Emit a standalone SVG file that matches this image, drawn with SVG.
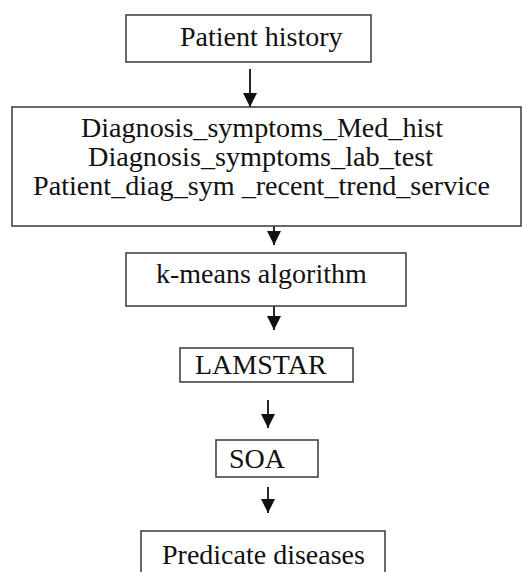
<svg xmlns="http://www.w3.org/2000/svg" width="524" height="572" viewBox="0 0 524 572">
<style>
.box{fill:#fff;stroke:#444;stroke-width:1.6}
.t{font-family:"Liberation Serif","Times New Roman",serif;font-size:28px;fill:#111}
.s{font-size:27px}
.c{stroke:#111;stroke-width:1.8;fill:none}
</style>
<defs>
<marker id="ah" markerUnits="userSpaceOnUse" markerWidth="15" markerHeight="14" refX="14" refY="7" orient="auto" viewBox="0 0 15 14">
<path d="M0,0 L14,7 L0,14 Z" fill="#111"/>
</marker>
</defs>
<rect width="524" height="572" fill="#fff"/>
<g id="connectors">
<line class="c" x1="250" y1="69" x2="250" y2="107" marker-end="url(#ah)"/>
<line class="c" x1="274" y1="226" x2="274" y2="245" marker-end="url(#ah)"/>
<line class="c" x1="274" y1="306" x2="274" y2="330" marker-end="url(#ah)"/>
<line class="c" x1="268" y1="400" x2="268" y2="428" marker-end="url(#ah)"/>
<line class="c" x1="268" y1="487" x2="268" y2="513" marker-end="url(#ah)"/>
</g>
<g id="patient-history">
<rect class="box" x="126" y="15" width="245" height="47"/>
<text class="t" x="180" y="46">Patient history</text>
</g>
<g id="diagnosis">
<rect class="box" x="12" y="107" width="509" height="119"/>
<text class="t s" x="81" y="137" textLength="362" lengthAdjust="spacingAndGlyphs">Diagnosis_symptoms_Med_hist</text>
<text class="t s" x="88" y="166" textLength="345" lengthAdjust="spacingAndGlyphs">Diagnosis_symptoms_lab_test</text>
<text class="t s" x="33" y="195" textLength="457" lengthAdjust="spacingAndGlyphs">Patient_diag_sym _recent_trend_service</text>
</g>
<g id="kmeans">
<rect class="box" x="126" y="253" width="280" height="53"/>
<text class="t" x="156" y="283">k-means algorithm</text>
</g>
<g id="lamstar">
<rect class="box" x="180" y="348" width="173" height="34"/>
<text class="t" x="195" y="374">LAMSTAR</text>
</g>
<g id="soa">
<rect class="box" x="216" y="440" width="102" height="37"/>
<text class="t" x="229" y="468">SOA</text>
</g>
<g id="predicate">
<rect class="box" x="141" y="531" width="244" height="60"/>
<text class="t" x="162" y="564">Predicate diseases</text>
</g>
</svg>
